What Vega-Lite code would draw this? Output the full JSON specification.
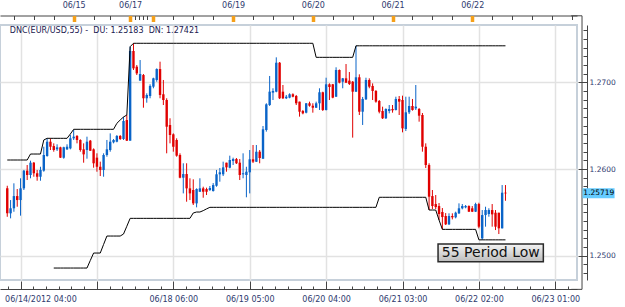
{
"$schema": "https://vega.github.io/schema/vega-lite/v6.json",
"width": 577, "height": 255,
"autosize": {"type": "none"},
"padding": {"left": 0, "top": 25, "right": 48, "bottom": 27},
"background": "white",
"config": {
  "view": {"stroke": "#c6d0da", "strokeWidth": 2},
  "axis": {"labelFont": "DejaVu Sans", "labelFontSize": 8, "labelColor": "#2e3a6e", "domainColor": "#444444", "tickColor": "#444444", "gridColor": "#e2e2e2", "gridWidth": 1.5, "title": null}
},
"data": {"values": [
{"i":0,"o":1.25777,"h":1.25807,"l":1.25449,"c":1.25489,"u":1.26104,"d":null},
{"i":1,"o":1.25489,"h":1.25642,"l":1.25431,"c":1.25547,"u":1.26104,"d":null},
{"i":2,"o":1.25547,"h":1.25835,"l":1.25507,"c":1.25688,"u":1.26104,"d":null},
{"i":3,"o":1.25688,"h":1.25769,"l":1.25565,"c":1.25642,"u":1.26104,"d":null},
{"i":4,"o":1.25642,"h":1.25893,"l":1.25462,"c":1.25777,"u":1.26104,"d":null},
{"i":5,"o":1.25777,"h":1.25989,"l":1.25758,"c":1.25981,"u":1.26104,"d":null},
{"i":6,"o":1.25981,"h":1.26046,"l":1.25873,"c":1.25931,"u":1.26104,"d":null},
{"i":7,"o":1.25931,"h":1.26096,"l":1.25893,"c":1.26073,"u":1.26173,"d":null},
{"i":8,"o":1.26073,"h":1.26081,"l":1.25911,"c":1.25951,"u":1.26173,"d":null},
{"i":9,"o":1.25951,"h":1.25989,"l":1.25865,"c":1.25911,"u":1.26173,"d":null},
{"i":10,"o":1.25911,"h":1.26026,"l":1.25865,"c":1.25989,"u":1.26173,"d":null},
{"i":11,"o":1.25981,"h":1.26257,"l":1.25969,"c":1.26162,"u":1.26335,"d":null},
{"i":12,"o":1.2615,"h":1.26354,"l":1.26142,"c":1.26315,"u":1.26354,"d":null},
{"i":13,"o":1.26315,"h":1.26354,"l":1.26219,"c":1.26257,"u":1.26354,"d":null},
{"i":14,"o":1.26265,"h":1.26296,"l":1.262,"c":1.26219,"u":1.26354,"d":1.24858},
{"i":15,"o":1.26227,"h":1.26285,"l":1.26208,"c":1.2625,"u":1.26354,"d":1.24858},
{"i":16,"o":1.2625,"h":1.26257,"l":1.26127,"c":1.26131,"u":1.26354,"d":1.24858},
{"i":17,"o":1.26131,"h":1.26257,"l":1.26119,"c":1.2625,"u":1.26354,"d":1.24858},
{"i":18,"o":1.26227,"h":1.26285,"l":1.26219,"c":1.26257,"u":1.26354,"d":1.24858},
{"i":19,"o":1.26238,"h":1.26392,"l":1.26227,"c":1.26354,"u":1.26404,"d":1.24858},
{"i":20,"o":1.26354,"h":1.2645,"l":1.26335,"c":1.26373,"u":1.26458,"d":1.24858},
{"i":21,"o":1.26381,"h":1.26392,"l":1.26296,"c":1.26335,"u":1.26458,"d":1.24858},
{"i":22,"o":1.26335,"h":1.26343,"l":1.262,"c":1.26219,"u":1.26458,"d":1.24858},
{"i":23,"o":1.26227,"h":1.26296,"l":1.26073,"c":1.26169,"u":1.26458,"d":1.24858},
{"i":24,"o":1.26219,"h":1.26373,"l":1.26119,"c":1.26315,"u":1.26458,"d":1.24858},
{"i":25,"o":1.26327,"h":1.26335,"l":1.26208,"c":1.26211,"u":1.26458,"d":1.24945},
{"i":26,"o":1.26227,"h":1.26238,"l":1.26015,"c":1.26066,"u":1.26458,"d":1.25031},
{"i":27,"o":1.26131,"h":1.26181,"l":1.25969,"c":1.26026,"u":1.26458,"d":1.25031},
{"i":28,"o":1.26026,"h":1.26085,"l":1.25919,"c":1.25989,"u":1.26458,"d":1.25031},
{"i":29,"o":1.25989,"h":1.26181,"l":1.25911,"c":1.26162,"u":1.26458,"d":1.2513},
{"i":30,"o":1.26162,"h":1.26335,"l":1.26142,"c":1.26227,"u":1.26458,"d":1.25227},
{"i":31,"o":1.26219,"h":1.26411,"l":1.262,"c":1.26315,"u":1.26458,"d":1.25227},
{"i":32,"o":1.26308,"h":1.26346,"l":1.26296,"c":1.26335,"u":1.26458,"d":1.25227},
{"i":33,"o":1.26315,"h":1.26392,"l":1.26308,"c":1.26381,"u":1.26527,"d":1.25227},
{"i":34,"o":1.26381,"h":1.26392,"l":1.26335,"c":1.26346,"u":1.26565,"d":1.25227},
{"i":35,"o":1.26346,"h":1.266,"l":1.26335,"c":1.26554,"u":1.266,"d":1.2525},
{"i":36,"o":1.26565,"h":1.26623,"l":1.26323,"c":1.26327,"u":1.26623,"d":1.2534},
{"i":37,"o":1.26327,"h":1.27411,"l":1.26327,"c":1.27361,"u":1.27411,"d":1.25431},
{"i":38,"o":1.27361,"h":1.2745,"l":1.27142,"c":1.27161,"u":1.2745,"d":1.25431},
{"i":39,"o":1.2718,"h":1.27199,"l":1.27084,"c":1.27103,"u":1.2745,"d":1.25431},
{"i":40,"o":1.27019,"h":1.27257,"l":1.27019,"c":1.27096,"u":1.2745,"d":1.25431},
{"i":41,"o":1.27084,"h":1.27096,"l":1.26707,"c":1.26816,"u":1.2745,"d":1.25431},
{"i":42,"o":1.26816,"h":1.26873,"l":1.26765,"c":1.26854,"u":1.2745,"d":1.25431},
{"i":43,"o":1.26842,"h":1.26977,"l":1.26816,"c":1.26958,"u":1.2745,"d":1.25431},
{"i":44,"o":1.2695,"h":1.27053,"l":1.26931,"c":1.27046,"u":1.2745,"d":1.25431},
{"i":45,"o":1.27027,"h":1.27161,"l":1.27007,"c":1.27153,"u":1.2745,"d":1.25431},
{"i":46,"o":1.27153,"h":1.27238,"l":1.26816,"c":1.26854,"u":1.2745,"d":1.25431},
{"i":47,"o":1.26862,"h":1.27027,"l":1.26738,"c":1.26796,"u":1.2745,"d":1.25431},
{"i":48,"o":1.26796,"h":1.26816,"l":1.26181,"c":1.26488,"u":1.2745,"d":1.25431},
{"i":49,"o":1.26508,"h":1.26585,"l":1.26296,"c":1.26392,"u":1.2745,"d":1.25431},
{"i":50,"o":1.264,"h":1.26411,"l":1.262,"c":1.26257,"u":1.2745,"d":1.25431},
{"i":51,"o":1.26335,"h":1.26354,"l":1.26142,"c":1.26154,"u":1.2745,"d":1.25431},
{"i":52,"o":1.26162,"h":1.26181,"l":1.25893,"c":1.259,"u":1.2745,"d":1.25431},
{"i":53,"o":1.259,"h":1.26066,"l":1.25719,"c":1.25942,"u":1.2745,"d":1.25431},
{"i":54,"o":1.25942,"h":1.26066,"l":1.25623,"c":1.25777,"u":1.2745,"d":1.25431},
{"i":55,"o":1.25777,"h":1.25893,"l":1.25642,"c":1.25719,"u":1.2745,"d":1.25431},
{"i":56,"o":1.25758,"h":1.25881,"l":1.25585,"c":1.25604,"u":1.2745,"d":1.25493},
{"i":57,"o":1.25604,"h":1.25777,"l":1.25558,"c":1.25769,"u":1.2745,"d":1.25504},
{"i":58,"o":1.25738,"h":1.25893,"l":1.25735,"c":1.25777,"u":1.2745,"d":1.25504},
{"i":59,"o":1.25777,"h":1.25796,"l":1.25669,"c":1.25738,"u":1.2745,"d":1.2552},
{"i":60,"o":1.25769,"h":1.25785,"l":1.257,"c":1.25738,"u":1.2745,"d":1.2554},
{"i":61,"o":1.25758,"h":1.25804,"l":1.25746,"c":1.25781,"u":1.2745,"d":1.25558},
{"i":62,"o":1.25746,"h":1.25838,"l":1.2574,"c":1.25815,"u":1.2745,"d":1.25558},
{"i":63,"o":1.25807,"h":1.25989,"l":1.25796,"c":1.25939,"u":1.2745,"d":1.25558},
{"i":64,"o":1.25939,"h":1.26012,"l":1.25854,"c":1.25962,"u":1.2745,"d":1.25558},
{"i":65,"o":1.25939,"h":1.26085,"l":1.25919,"c":1.26019,"u":1.2745,"d":1.25558},
{"i":66,"o":1.26073,"h":1.26073,"l":1.25969,"c":1.26019,"u":1.2745,"d":1.25558},
{"i":67,"o":1.26015,"h":1.26154,"l":1.26008,"c":1.26104,"u":1.2745,"d":1.25558},
{"i":68,"o":1.26092,"h":1.26131,"l":1.26046,"c":1.26115,"u":1.2745,"d":1.25558},
{"i":69,"o":1.26115,"h":1.26127,"l":1.26058,"c":1.26066,"u":1.2745,"d":1.25558},
{"i":70,"o":1.26073,"h":1.26115,"l":1.25873,"c":1.25931,"u":1.2745,"d":1.25558},
{"i":71,"o":1.25939,"h":1.26181,"l":1.25893,"c":1.25951,"u":1.2745,"d":1.25558},
{"i":72,"o":1.25931,"h":1.26026,"l":1.25674,"c":1.25969,"u":1.2745,"d":1.25558},
{"i":73,"o":1.25962,"h":1.26219,"l":1.25719,"c":1.26112,"u":1.2745,"d":1.25558},
{"i":74,"o":1.26112,"h":1.26277,"l":1.26069,"c":1.26085,"u":1.2745,"d":1.25558},
{"i":75,"o":1.26085,"h":1.26277,"l":1.26081,"c":1.262,"u":1.2745,"d":1.25558},
{"i":76,"o":1.262,"h":1.26219,"l":1.26066,"c":1.26127,"u":1.2745,"d":1.25558},
{"i":77,"o":1.26119,"h":1.26496,"l":1.26115,"c":1.26458,"u":1.2745,"d":1.25558},
{"i":78,"o":1.2645,"h":1.26758,"l":1.26431,"c":1.26746,"u":1.2745,"d":1.25558},
{"i":79,"o":1.26738,"h":1.27073,"l":1.26727,"c":1.26892,"u":1.2745,"d":1.25558},
{"i":80,"o":1.26881,"h":1.26931,"l":1.26796,"c":1.269,"u":1.2745,"d":1.25558},
{"i":81,"o":1.26892,"h":1.27288,"l":1.26885,"c":1.27226,"u":1.2745,"d":1.25558},
{"i":82,"o":1.27226,"h":1.27234,"l":1.26807,"c":1.26816,"u":1.2745,"d":1.25558},
{"i":83,"o":1.26892,"h":1.26969,"l":1.26807,"c":1.26816,"u":1.2745,"d":1.25558},
{"i":84,"o":1.26816,"h":1.26854,"l":1.26807,"c":1.26834,"u":1.2745,"d":1.25558},
{"i":85,"o":1.26823,"h":1.26873,"l":1.26816,"c":1.26862,"u":1.2745,"d":1.25558},
{"i":86,"o":1.26862,"h":1.26873,"l":1.26827,"c":1.26834,"u":1.2745,"d":1.25558},
{"i":87,"o":1.26842,"h":1.26854,"l":1.26738,"c":1.26758,"u":1.2745,"d":1.25558},
{"i":88,"o":1.26777,"h":1.26777,"l":1.26604,"c":1.26661,"u":1.2745,"d":1.25558},
{"i":89,"o":1.26669,"h":1.26681,"l":1.26631,"c":1.26642,"u":1.2745,"d":1.25558},
{"i":90,"o":1.2665,"h":1.26761,"l":1.26642,"c":1.26758,"u":1.2745,"d":1.25558},
{"i":91,"o":1.26758,"h":1.26777,"l":1.26719,"c":1.2673,"u":1.2745,"d":1.25558},
{"i":92,"o":1.2673,"h":1.26758,"l":1.2665,"c":1.26707,"u":1.2745,"d":1.25558},
{"i":93,"o":1.26707,"h":1.26777,"l":1.26704,"c":1.26758,"u":1.27288,"d":1.25558},
{"i":94,"o":1.26758,"h":1.26931,"l":1.26681,"c":1.26885,"u":1.27288,"d":1.25558},
{"i":95,"o":1.26885,"h":1.26892,"l":1.26669,"c":1.26681,"u":1.27288,"d":1.25558},
{"i":96,"o":1.26681,"h":1.27053,"l":1.26675,"c":1.26977,"u":1.27288,"d":1.25558},
{"i":97,"o":1.26977,"h":1.26988,"l":1.26796,"c":1.26946,"u":1.27288,"d":1.25558},
{"i":98,"o":1.26977,"h":1.26981,"l":1.26816,"c":1.26823,"u":1.27288,"d":1.25558},
{"i":99,"o":1.26834,"h":1.27173,"l":1.26831,"c":1.27142,"u":1.27288,"d":1.25558},
{"i":100,"o":1.27142,"h":1.27148,"l":1.26988,"c":1.26996,"u":1.27288,"d":1.25558},
{"i":101,"o":1.27007,"h":1.2705,"l":1.26931,"c":1.27046,"u":1.27288,"d":1.25558},
{"i":102,"o":1.27046,"h":1.27211,"l":1.26992,"c":1.26996,"u":1.27288,"d":1.25558},
{"i":103,"o":1.27019,"h":1.27119,"l":1.26969,"c":1.26981,"u":1.27288,"d":1.25558},
{"i":104,"o":1.27007,"h":1.27015,"l":1.26362,"c":1.26892,"u":1.27288,"d":1.25558},
{"i":105,"o":1.26892,"h":1.27421,"l":1.26888,"c":1.27058,"u":1.27421,"d":1.25558},
{"i":106,"o":1.27058,"h":1.27092,"l":1.26623,"c":1.26661,"u":1.27421,"d":1.25558},
{"i":107,"o":1.26661,"h":1.26831,"l":1.26508,"c":1.26808,"u":1.27421,"d":1.25558},
{"i":108,"o":1.26804,"h":1.27053,"l":1.26796,"c":1.27027,"u":1.27421,"d":1.25558},
{"i":109,"o":1.27027,"h":1.27046,"l":1.26931,"c":1.2695,"u":1.27421,"d":1.25558},
{"i":110,"o":1.26958,"h":1.26988,"l":1.26796,"c":1.269,"u":1.27421,"d":1.25558},
{"i":111,"o":1.269,"h":1.26911,"l":1.26765,"c":1.26777,"u":1.27421,"d":1.25558},
{"i":112,"o":1.26785,"h":1.26796,"l":1.26642,"c":1.26661,"u":1.27421,"d":1.25674},
{"i":113,"o":1.26669,"h":1.26719,"l":1.26577,"c":1.26585,"u":1.27421,"d":1.25674},
{"i":114,"o":1.26585,"h":1.267,"l":1.26577,"c":1.26692,"u":1.27421,"d":1.25674},
{"i":115,"o":1.26669,"h":1.26738,"l":1.26642,"c":1.26692,"u":1.27421,"d":1.25674},
{"i":116,"o":1.26692,"h":1.26738,"l":1.2665,"c":1.26677,"u":1.27421,"d":1.25674},
{"i":117,"o":1.26681,"h":1.26834,"l":1.26675,"c":1.26808,"u":1.27421,"d":1.25674},
{"i":118,"o":1.26808,"h":1.26842,"l":1.26623,"c":1.26777,"u":1.27421,"d":1.25674},
{"i":119,"o":1.26796,"h":1.26846,"l":1.26423,"c":1.26469,"u":1.27421,"d":1.25674},
{"i":120,"o":1.26462,"h":1.26834,"l":1.26438,"c":1.26654,"u":1.27421,"d":1.25674},
{"i":121,"o":1.26654,"h":1.26834,"l":1.26634,"c":1.26727,"u":1.27421,"d":1.25674},
{"i":122,"o":1.26727,"h":1.26808,"l":1.26673,"c":1.26681,"u":1.27421,"d":1.25674},
{"i":123,"o":1.267,"h":1.26969,"l":1.26681,"c":1.26719,"u":1.27421,"d":1.25674},
{"i":124,"o":1.26692,"h":1.26704,"l":1.26546,"c":1.26615,"u":1.27421,"d":1.25674},
{"i":125,"o":1.26623,"h":1.26646,"l":1.262,"c":1.26257,"u":1.27421,"d":1.25674},
{"i":126,"o":1.26257,"h":1.26296,"l":1.26012,"c":1.26046,"u":1.27421,"d":1.25674},
{"i":127,"o":1.26046,"h":1.26066,"l":1.25527,"c":1.25681,"u":1.27421,"d":1.25527},
{"i":128,"o":1.25688,"h":1.25758,"l":1.25538,"c":1.25573,"u":1.27421,"d":1.25527},
{"i":129,"o":1.25596,"h":1.257,"l":1.25538,"c":1.25561,"u":1.27421,"d":1.25527},
{"i":130,"o":1.25573,"h":1.25608,"l":1.25412,"c":1.25481,"u":1.27421,"d":1.25412},
{"i":131,"o":1.25504,"h":1.2555,"l":1.25304,"c":1.25446,"u":1.27421,"d":1.25304},
{"i":132,"o":1.25458,"h":1.25492,"l":1.25354,"c":1.25362,"u":1.27421,"d":1.25304},
{"i":133,"o":1.25362,"h":1.25489,"l":1.25354,"c":1.25458,"u":1.27421,"d":1.25304},
{"i":134,"o":1.25458,"h":1.25489,"l":1.25419,"c":1.25443,"u":1.27421,"d":1.25304},
{"i":135,"o":1.25443,"h":1.25508,"l":1.25431,"c":1.25496,"u":1.27421,"d":1.25304},
{"i":136,"o":1.25489,"h":1.25604,"l":1.25481,"c":1.25547,"u":1.27421,"d":1.25304},
{"i":137,"o":1.25547,"h":1.25596,"l":1.25535,"c":1.25573,"u":1.27421,"d":1.25304},
{"i":138,"o":1.25558,"h":1.25585,"l":1.25547,"c":1.25573,"u":1.27421,"d":1.25304},
{"i":139,"o":1.25573,"h":1.25581,"l":1.25504,"c":1.25508,"u":1.27421,"d":1.25304},
{"i":140,"o":1.25547,"h":1.25573,"l":1.25504,"c":1.25508,"u":1.27421,"d":1.25304},
{"i":141,"o":1.25508,"h":1.25611,"l":1.25504,"c":1.25596,"u":1.27421,"d":1.25304},
{"i":142,"o":1.25596,"h":1.25611,"l":1.25316,"c":1.25335,"u":1.27421,"d":1.25183},
{"i":143,"o":1.252,"h":1.25527,"l":1.25183,"c":1.25469,"u":1.27421,"d":1.25183},
{"i":144,"o":1.25469,"h":1.25565,"l":1.25335,"c":1.25527,"u":1.27421,"d":1.25183},
{"i":145,"o":1.25481,"h":1.25547,"l":1.2545,"c":1.25527,"u":1.27421,"d":1.25183},
{"i":146,"o":1.25527,"h":1.25596,"l":1.25335,"c":1.25477,"u":1.27421,"d":1.25183},
{"i":147,"o":1.25496,"h":1.25527,"l":1.25296,"c":1.25335,"u":1.27421,"d":1.25183},
{"i":148,"o":1.25496,"h":1.25496,"l":1.2525,"c":1.25316,"u":1.27421,"d":1.25183},
{"i":149,"o":1.25316,"h":1.25815,"l":1.25314,"c":1.25727,"u":1.27421,"d":1.25183},
{"i":150,"o":1.25727,"h":1.25815,"l":1.25634,"c":1.25719,"u":1.27421,"d":1.25183}
]},
"resolve": {"axis": {"x": "independent", "y": "independent"}},
"layer": [
  {
    "mark": {"type": "rule", "strokeWidth": 1},
    "encoding": {
      "x": {"field": "i", "type": "quantitative", "scale": {"domain": [-0.68, 170.03], "nice": false, "zero": false},
        "axis": {"orient": "bottom", "offset": 9,
          "values": [0.167,4,7.833,11.667,15.5,19.333,23.167,27,30.833,34.667,38.5,42.333,46.167,50,53.833,57.667,61.5,65.333,69.167,73,76.833,80.667,84.5,88.333,92.167,96,99.833,103.667,107.5,111.333,115.167,119,122.833,126.667,130.5,134.333,138.167,142,145.833,149.667,153.5,157.333,161.167,165,168.833],
          "grid": true,
          "gridOpacity": {"condition": {"test": "indexof([4,27,50,73,96,119,142,165], datum.value) >= 0", "value": 1}, "value": 0},
          "tickSize": {"condition": {"test": "indexof([4,27,50,73,96,119,142,165], datum.value) >= 0", "value": -8}, "value": -3},
          "labelPadding": 14,
          "labelExpr": "datum.value == 4 ? '06/14/2012 04:00' : datum.value == 50 ? '06/18 06:00' : datum.value == 73 ? '06/19 05:00' : datum.value == 96 ? '06/20 04:00' : datum.value == 119 ? '06/21 03:00' : datum.value == 142 ? '06/22 02:00' : datum.value == 165 ? '06/23 01:00' : ''",
          "labelAlign": {"condition": {"test": "datum.value == 4", "value": "left"}, "value": "center"},
          "labelOffset": {"condition": {"test": "datum.value == 4", "value": -16}, "value": 0},
          "labelOverlap": false, "labelBound": false, "labelFlush": false, "title": null}},
      "y": {"field": "l", "type": "quantitative", "scale": {"domain": [1.2472, 1.27661], "nice": false, "zero": false},
        "axis": {"orient": "right", "offset": 10,
          "values": [1.247,1.248,1.249,1.25,1.251,1.252,1.253,1.254,1.255,1.256,1.257,1.258,1.259,1.26,1.261,1.262,1.263,1.264,1.265,1.266,1.267,1.268,1.269,1.27,1.271,1.272,1.273,1.274,1.275,1.276],
          "grid": true,
          "gridOpacity": {"condition": {"test": "abs(datum.value*100 - round(datum.value*100)) < 0.001", "value": 1}, "value": 0},
          "tickSize": {"condition": {"test": "abs(datum.value*100 - round(datum.value*100)) < 0.001", "value": -9}, "value": -4},
          "labelPadding": 11,
          "labelFontSize": 7.5,
          "labelExpr": "abs(datum.value*100 - round(datum.value*100)) < 0.001 ? format(datum.value, '.4f') : ''",
          "labelOverlap": false, "labelBound": false, "labelFlush": false, "title": null}},
      "y2": {"field": "h"},
      "color": {"condition": {"test": "datum.c >= datum.o", "value": "#0a64c8"}, "value": "#e00000"}
    }
  },
  {
    "mark": {"type": "bar", "size": 2.4},
    "encoding": {
      "x": {"field": "i", "type": "quantitative", "scale": {"domain": [-0.68, 170.03], "nice": false, "zero": false}, "axis": null},
      "y": {"field": "o", "type": "quantitative", "scale": {"domain": [1.2472, 1.27661], "nice": false, "zero": false}, "axis": null},
      "y2": {"field": "c"},
      "color": {"condition": {"test": "datum.c >= datum.o", "value": "#0a64c8"}, "value": "#e00000"}
    }
  },
  {
    "mark": {"type": "line", "color": "black", "strokeWidth": 1},
    "encoding": {
      "x": {"field": "i", "type": "quantitative", "scale": {"domain": [-0.68, 170.03], "nice": false, "zero": false},
        "axis": {"orient": "top", "offset": 9.5,
          "values": [2,8,14,20,26,31,37,38.4,39.6,41,42.2,44,50,56,62,68,74,80,86,92,98,104,110,116,122,128,134,140,146,152,158,164,170],
          "tickSize": -4, "labelPadding": 10, "grid": false,
          "labelExpr": "datum.value == 20 ? '06/15' : datum.value == 37 ? '06/17' : datum.value == 68 ? '06/19' : datum.value == 92 ? '06/20' : datum.value == 116 ? '06/21' : datum.value == 140 ? '06/22' : ''",
          "labelOverlap": false, "labelBound": false, "labelFlush": false, "title": null}},
      "y": {"field": "u", "type": "quantitative", "scale": {"domain": [1.2472, 1.27661], "nice": false, "zero": false}, "axis": null}
    }
  },
  {
    "mark": {"type": "line", "color": "black", "strokeWidth": 1},
    "encoding": {
      "x": {"field": "i", "type": "quantitative", "scale": {"domain": [-0.68, 170.03], "nice": false, "zero": false},
        "axis": {"orient": "top", "offset": 9.5, "values": [20,37,44,68,92,116,140],
          "tickSize": -6, "tickWidth": 3.5, "tickColor": "#f5a01a", "domain": false, "labels": false, "grid": false, "title": null}},
      "y": {"field": "d", "type": "quantitative", "scale": {"domain": [1.2472, 1.27661], "nice": false, "zero": false}, "axis": null}
    }
  },
  {
    "data": {"values": [{}]},
    "mark": {"type": "rule", "color": "#444444", "strokeWidth": 1},
    "encoding": {
      "x": {"datum": 173.05, "type": "quantitative", "scale": {"domain": [-0.68, 170.03], "nice": false, "zero": false}, "axis": null},
      "y": {"datum": 1.27767, "type": "quantitative", "scale": {"domain": [1.2472, 1.27661], "nice": false, "zero": false}, "axis": null},
      "y2": {"datum": 1.24612}
    }
  },
  {
    "data": {"values": [{}]},
    "mark": {"type": "rule", "color": "#444444", "strokeWidth": 1},
    "encoding": {
      "x": {"datum": 169.8, "type": "quantitative", "scale": {"domain": [-0.68, 170.03], "nice": false, "zero": false}, "axis": null},
      "x2": {"datum": 173.05},
      "y": {"datum": 1.24612, "type": "quantitative", "scale": {"domain": [1.2472, 1.27661], "nice": false, "zero": false}, "axis": null}
    }
  },
  {
    "data": {"values": [{}]},
    "mark": {"type": "rule", "color": "#444444", "strokeWidth": 1},
    "encoding": {
      "x": {"datum": 169.8, "type": "quantitative", "scale": {"domain": [-0.68, 170.03], "nice": false, "zero": false}, "axis": null},
      "x2": {"datum": 173.05},
      "y": {"datum": 1.27767, "type": "quantitative", "scale": {"domain": [1.2472, 1.27661], "nice": false, "zero": false}, "axis": null}
    }
  },
  {
    "data": {"values": [{}]},
    "mark": {"type": "text", "text": "DNC(EUR/USD,55) -\u00a0 DU: 1.25183\u00a0 DN: 1.27421", "align": "left", "baseline": "middle", "fontSize": 8, "font": "DejaVu Sans", "color": "#1a2050"},
    "encoding": {
      "x": {"datum": 0.75, "type": "quantitative", "scale": {"domain": [-0.68, 170.03], "nice": false, "zero": false}, "axis": null},
      "y": {"datum": 1.27591, "type": "quantitative", "scale": {"domain": [1.2472, 1.27661], "nice": false, "zero": false}, "axis": null}
    }
  },
  {
    "data": {"values": [{}]},
    "mark": {"type": "rect", "color": "#66ccff"},
    "encoding": {
      "x": {"datum": 173.2, "type": "quantitative", "scale": {"domain": [-0.68, 170.03], "nice": false, "zero": false}, "axis": null},
      "x2": {"datum": 182.85},
      "y": {"datum": 1.25777, "type": "quantitative", "scale": {"domain": [1.2472, 1.27661], "nice": false, "zero": false}, "axis": null},
      "y2": {"datum": 1.25662}
    }
  },
  {
    "transform": [{"filter": "datum.i == 150"}],
    "mark": {"type": "text", "align": "left", "baseline": "middle", "fontSize": 7.5, "font": "DejaVu Sans", "color": "#000000"},
    "encoding": {
      "x": {"datum": 173.45, "type": "quantitative", "scale": {"domain": [-0.68, 170.03], "nice": false, "zero": false}, "axis": null},
      "y": {"field": "c", "type": "quantitative", "scale": {"domain": [1.2472, 1.27661], "nice": false, "zero": false}, "axis": null},
      "text": {"field": "c", "type": "quantitative", "format": ".5f"}
    }
  },
  {
    "data": {"values": [{}]},
    "mark": {"type": "rect", "stroke": "#2a2a2a", "strokeWidth": 1.5,
      "fill": {"x1": 0, "y1": 0, "x2": 0, "y2": 1, "gradient": "linear", "stops": [{"offset": 0, "color": "#f4f4f4"}, {"offset": 1, "color": "#bcbcbc"}]}},
    "encoding": {
      "x": {"datum": 129.7, "type": "quantitative", "scale": {"domain": [-0.68, 170.03], "nice": false, "zero": false}, "axis": null},
      "x2": {"datum": 161.4},
      "y": {"datum": 1.25135, "type": "quantitative", "scale": {"domain": [1.2472, 1.27661], "nice": false, "zero": false}, "axis": null},
      "y2": {"datum": 1.24931}
    }
  },
  {
    "data": {"values": [{}]},
    "mark": {"type": "text", "text": "55 Period Low", "align": "center", "baseline": "middle", "fontSize": 14, "font": "DejaVu Sans", "color": "#111111"},
    "encoding": {
      "x": {"datum": 145.58, "type": "quantitative", "scale": {"domain": [-0.68, 170.03], "nice": false, "zero": false}, "axis": null},
      "y": {"datum": 1.25033, "type": "quantitative", "scale": {"domain": [1.2472, 1.27661], "nice": false, "zero": false}, "axis": null}
    }
  }
]
}
